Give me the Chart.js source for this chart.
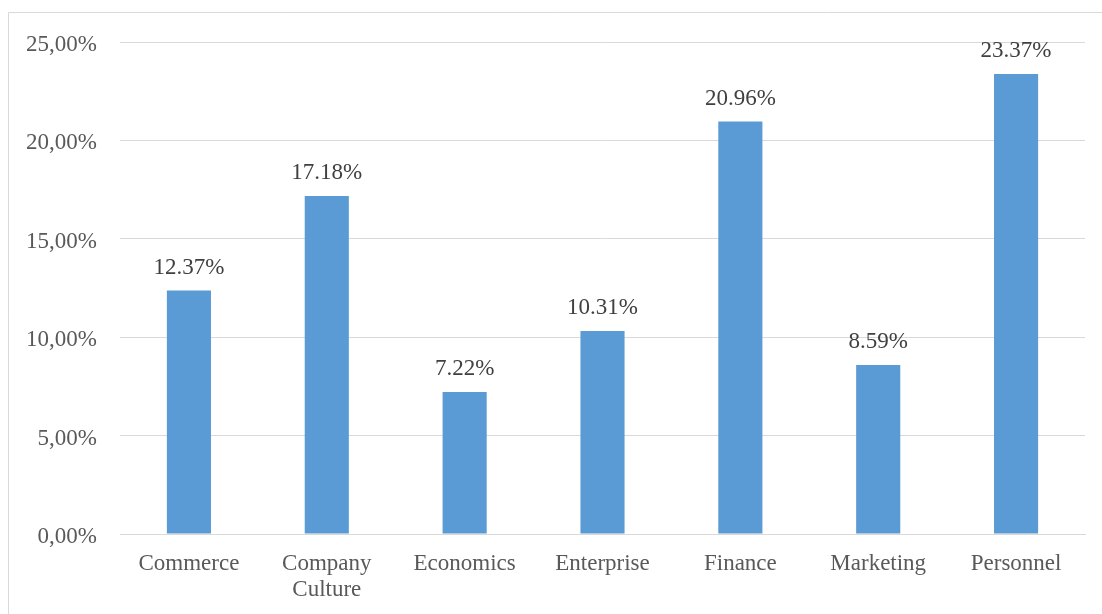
<!DOCTYPE html>
<html>
<head>
<meta charset="utf-8">
<title>Share by field</title>
<script src="https://cdn.jsdelivr.net/npm/chart.js@4/dist/chart.umd.min.js"></script>
<style>
  html, body { margin: 0; padding: 0; background: #fff; }
  canvas { display: block; }
</style>
</head>
<body>
<canvas id="barChart" width="1102" height="614"></canvas>
<script>
// categories and their shares (in percent)
const categories = ['Commerce', ['Company', 'Culture'], 'Economics', 'Enterprise', 'Finance', 'Marketing', 'Personnel'];
const shares = [12.37, 17.18, 7.22, 10.31, 20.96, 8.59, 23.37];
const yTicks = [0, 5, 10, 15, 20, 25];

const serif = '"Liberation Serif", "Times New Roman", serif';

// light frame around the whole chart
const framePlugin = {
  id: 'frame',
  beforeDraw(chart) {
    const ctx = chart.ctx;
    ctx.save();
    ctx.fillStyle = '#fff';
    ctx.fillRect(0, 0, chart.width, chart.height);
    ctx.strokeStyle = '#d9d9d9';
    ctx.lineWidth = 1;
    ctx.beginPath();
    ctx.moveTo(8.5, chart.height);
    ctx.lineTo(8.5, 12.5);
    ctx.lineTo(chart.width, 12.5);
    ctx.stroke();
    ctx.restore();
  }
};

// value printed above each bar
const valueLabels = {
  id: 'valueLabels',
  afterDatasetsDraw(chart) {
    const ctx = chart.ctx;
    const meta = chart.getDatasetMeta(0);
    ctx.save();
    ctx.font = '23px ' + serif;
    ctx.fillStyle = '#404040';
    ctx.textAlign = 'center';
    ctx.textBaseline = 'middle';
    meta.data.forEach((bar, i) => {
      ctx.fillText(shares[i].toFixed(2) + '%', bar.x, bar.y - 23);
    });
    ctx.restore();
  }
};

new Chart(document.getElementById('barChart').getContext('2d'), {
  type: 'bar',
  data: {
    labels: categories,
    datasets: [{
      data: shares,
      backgroundColor: '#5b9bd5',
      borderWidth: 0,
      barPercentage: 0.32,
      categoryPercentage: 1
    }]
  },
  options: {
    responsive: false,
    animation: false,
    layout: { padding: { top: 42, right: 17, left: 0, bottom: 0 } },
    plugins: {
      legend: { display: false },
      tooltip: { enabled: false }
    },
    scales: {
      x: {
        grid: { display: false, drawTicks: false },
        border: { display: true, color: '#d9d9d9', width: 1 },
        ticks: {
          padding: 17,
          maxRotation: 0,
          autoSkip: false,
          color: '#595959',
          font: { family: serif, size: 23, lineHeight: 1.13 }
        },
        afterFit(scale) { scale.height = 80; }
      },
      y: {
        min: 0,
        max: 25,
        afterBuildTicks(scale) { scale.ticks = yTicks.map(v => ({ value: v })); },
        grid: { color: '#d9d9d9', drawTicks: false },
        border: { display: false },
        ticks: {
          padding: 23,
          labelOffset: 3,
          color: '#595959',
          font: { family: serif, size: 23 },
          callback: v => v.toFixed(2).replace('.', ',') + '%'
        },
        afterFit(scale) { scale.width = 120; }
      }
    }
  },
  plugins: [framePlugin, valueLabels]
});
</script>
</body>
</html>
